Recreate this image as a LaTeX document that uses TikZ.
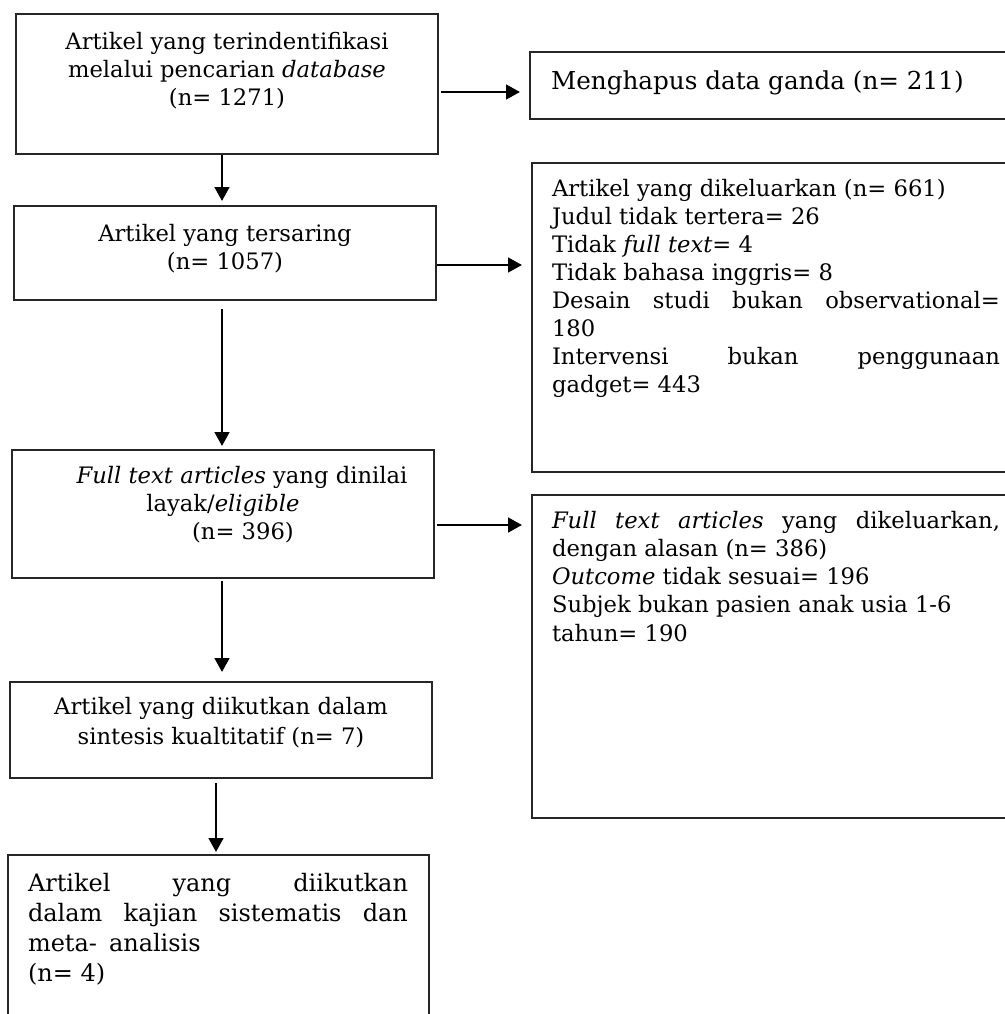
\documentclass[tikz,border=0pt]{standalone}
\usepackage{fontspec}
\setmainfont{DejaVu Serif}
\usetikzlibrary{arrows.meta}
\newcommand{\fl}[1]{\rule{0pt}{#1}}
\begin{document}
\begin{tikzpicture}[x=0.75pt,y=-0.75pt,
  box/.style={draw=black!85, line width=1.5pt, inner sep=0pt, anchor=north west,
    font=\fontsize{17}{21}\selectfont},
  arr/.style={line width=2pt, black, -{Triangle[length=10.5pt,width=11pt]}}]
\useasboundingbox (0,0) rectangle (1005,1014);
\clip (0,0) rectangle (1005,1014);

% left column
\node[box] (b1) at (15,13) {\parbox[t][105pt][t]{316.5pt}{\centering
  \fl{26.25pt}Artikel yang terindentifikasi\\
  melalui pencarian \textit{database}\\
  (n= 1271)}};
\node[box] (b2) at (13,205) {\parbox[t][70.5pt][t]{316.5pt}{\centering
  \fl{26.25pt}Artikel yang tersaring\\
  (n= 1057)}};
\node[box] (b3) at (11,449) {\parbox[t][96pt][t]{316.5pt}{\centering
  \fl{24.75pt}\hspace*{28.5pt}\textit{Full text articles} yang dinilai\\
  layak/\textit{eligible}\\
  \hspace*{30pt}(n= 396)}};
\node[box] (b4) at (9,681) {\parbox[t][72pt][t]{316.5pt}{\centering
  \fl{24pt}Artikel yang diikutkan dalam\\[1.5pt]
  sintesis kualtitatif (n= 7)}};
\node[box, font=\fontsize{18}{22.5}\selectfont] (b5) at (7,854) {\parbox[t][150pt][t]{315.75pt}{\hspace*{15pt}\parbox[t]{285pt}{\baselineskip=22.5pt
  \fl{27pt}Artikel\hfill yang\hfill diikutkan\\
  dalam\hfill kajian\hfill sistematis\hfill dan\\
  meta-\hspace{0.5em}analisis\\
  (n= 4)}}};

% right column
\node[box, font=\fontsize{18.5}{22}\selectfont] (del) at (529,51) {\parbox[t][50.25pt][t]{375.75pt}{\hspace*{15.75pt}\parbox[t]{345pt}{%
  \fl{27.75pt}Menghapus data ganda (n= 211)}}};
\node[box] (ex1) at (531,162) {\parbox[t][231.75pt][t]{375pt}{\hspace*{15pt}\parbox[t]{336pt}{\baselineskip=21.1pt
  \fl{24.75pt}Artikel yang dikeluarkan (n= 661)\\
  Judul tidak tertera= 26\\
  Tidak \textit{full text}= 4\\
  Tidak bahasa inggris= 8\\
  Desain\hfill studi\hfill bukan\hfill observational=\\
  180\\
  Intervensi\hfill bukan\hfill penggunaan\\
  gadget= 443}}};
\node[box] (ex2) at (531,494) {\parbox[t][242.25pt][t]{375pt}{\hspace*{15pt}\parbox[t]{336pt}{\baselineskip=21.2pt
  \fl{24.75pt}\textit{Full}\hfill \textit{text}\hfill \textit{articles}\hfill yang\hfill dikeluarkan,\\
  dengan alasan (n= 386)\\
  \textit{Outcome} tidak sesuai= 196\\
  Subjek bukan pasien anak usia 1-6\\
  tahun= 190}}};

% helper coordinates
\coordinate (cx) at (222,0);
\coordinate (cx2) at (216,0);
\coordinate (y1) at (0,92);
\coordinate (y2) at (0,265);
\coordinate (y3) at (0,525);

% connectors
\draw[arr, shorten <=1.5pt, shorten >=6.75pt] (b1.east |- y1) -- (del.west |- y1);
\draw[arr, shorten >=3pt] (cx |- b1.south) -- (cx |- b2.north);
\draw[arr, shorten >=6.75pt] (b2.east |- y2) -- (ex1.west |- y2);
\draw[arr, shorten <=6pt, shorten >=2.25pt] (cx |- b2.south) -- (cx |- b3.north);
\draw[arr, shorten <=1.5pt, shorten >=6.75pt] (b3.east |- y3) -- (ex2.west |- y3);
\draw[arr, shorten <=1.5pt, shorten >=6.75pt] (cx |- b3.south) -- (cx |- b4.north);
\draw[arr, shorten <=3pt, shorten >=1.5pt] (cx2 |- b4.south) -- (cx2 |- b5.north);
\end{tikzpicture}
\end{document}
